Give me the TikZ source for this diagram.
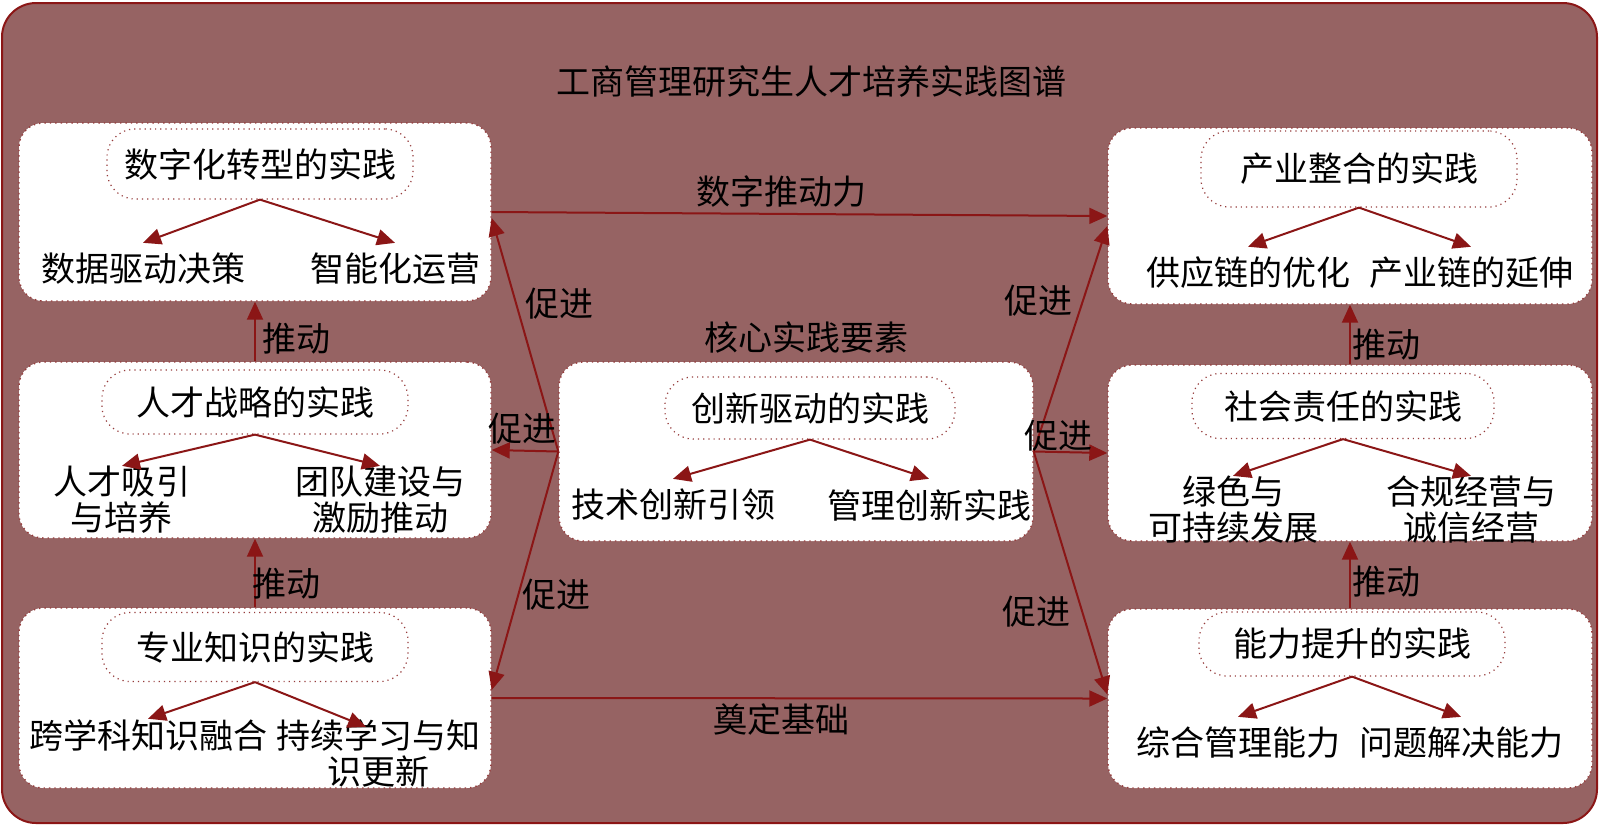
\documentclass[tikz,border=0pt]{standalone}
\usepackage{fontspec}
\setmainfont{Noto Sans CJK SC}
\usetikzlibrary{arrows.meta}
\definecolor{bgred}{RGB}{150,99,99}
\definecolor{lnred}{RGB}{139,22,22}
\definecolor{dotred}{RGB}{150,60,60}
\begin{document}
\begin{tikzpicture}[x=0.5pt,y=-0.5pt,
  font=\fontsize{17pt}{18pt}\selectfont,
  outer/.style={draw=lnred, line width=1pt, fill=bgred, rounded corners=17pt},
  panel/.style={draw=dotred, dotted, line width=0.7pt, fill=white, rounded corners=12pt, inner sep=0pt},
  pill/.style={draw=dotred, dotted, line width=0.6pt, rounded corners=14pt, inner sep=0pt},
  arr/.style={draw=lnred, line width=1pt, -{Triangle[length=9pt,width=8pt]}},
  sub/.style={inner sep=5pt},
  subtwo/.style={align=center, inner sep=0pt},
  lbl/.style={inner sep=0pt}
]
\useasboundingbox (0,0) rectangle (1600,827);
\path[outer] (2,3) rectangle (1597,823);

\node[lbl] (title) at (811,82) {工商管理研究生人才培养实践图谱};
\node[lbl] (core) at (806,337) {核心实践要素};

% panels
\node[panel, minimum width=236pt, minimum height=89pt] (TL) at (255,212) {};
\node[panel, minimum width=236pt, minimum height=88pt] (ML) at (255,450) {};
\node[panel, minimum width=236pt, minimum height=90pt] (BL) at (255,698) {};
\node[panel, minimum width=237pt, minimum height=89.5pt] (C) at (796,451.5) {};
\node[panel, minimum width=242pt, minimum height=88pt] (TR) at (1350,216) {};
\node[panel, minimum width=242pt, minimum height=88pt] (MR) at (1350,453) {};
\node[panel, minimum width=242pt, minimum height=89.5pt] (BR) at (1350,698.5) {};

% pills
\node[pill, minimum width=153pt, minimum height=35pt] (pTL) at (260,164) {数字化转型的实践};
\node[pill, minimum width=153pt, minimum height=32pt] (pML) at (255,402) {人才战略的实践};
\node[pill, minimum width=153pt, minimum height=34.5pt] (pBL) at (255,647) {专业知识的实践};
\node[pill, minimum width=145pt, minimum height=31pt] (pC) at (810,408) {创新驱动的实践};
\node[pill, minimum width=158pt, minimum height=38pt] (pTR) at (1359,169) {产业整合的实践};
\node[pill, minimum width=151pt, minimum height=32.5pt] (pMR) at (1343,406) {社会责任的实践};
\node[pill, minimum width=153pt, minimum height=32pt] (pBR) at (1352,644) {能力提升的实践};

% children
\node[sub] (a1) at (143,269) {数据驱动决策};
\node[sub] (a2) at (395,269) {智能化运营};
\node[subtwo] (b1) at (122,500) {人才吸引\\与培养};
\node[subtwo] (b2) at (380,500) {团队建设与\\激励推动};
\node[sub, inner sep=0pt] (c1) at (148,735) {跨学科知识融合};
\node[subtwo] (c2) at (378,753) {持续学习与知\\识更新};
\node[sub] (d1) at (673,505) {技术创新引领};
\node[sub] (d2) at (929,505) {管理创新实践};
\node[sub] (e1) at (1248,273) {供应链的优化};
\node[sub] (e2) at (1471,273) {产业链的延伸};
\node[subtwo] (f1) at (1233,510) {绿色与\\可持续发展};
\node[subtwo] (f2) at (1471,510) {合规经营与\\诚信经营};
\node[sub] (g1) at (1238,743) {综合管理能力};
\node[sub] (g2) at (1461,743) {问题解决能力};

% inner arrows
\draw[arr] (pTL.south) -- (a1.north);
\draw[arr] (pTL.south) -- (a2.north);
\draw[arr] (pML.south) -- (b1.north);
\draw[arr] (pML.south) -- (b2.north);
\draw[arr] (pBL.south) -- (c1.north);
\draw[arr] (pBL.south) -- ([xshift=-6pt,yshift=-4pt]c2.north);
\draw[arr] (pC.south) -- (d1.north);
\draw[arr] (pC.south) -- (d2.north);
\draw[arr] (pTR.south) -- (e1.north);
\draw[arr] (pTR.south) -- (e2.north);
\draw[arr] (pMR.south) -- (f1.north);
\draw[arr] (pMR.south) -- (f2.north);
\draw[arr] (pBR.south) -- (g1.north);
\draw[arr] (pBR.south) -- (g2.north);

% main connectors
\draw[arr] (TL.east) -- (TR.west);
\draw[arr] (BL.east) -- (BR.west);
\draw[arr] (BL.north) -- (ML.south);
\draw[arr] (ML.north) -- (TL.south);
\draw[arr] (BR.north) -- (MR.south);
\draw[arr] (MR.north) -- (TR.south);
\draw[arr] (C.west) -- (ML.east);
\draw[arr] (C.west) -- ([yshift=-3pt]TL.east);
\draw[arr] (C.west) -- ([yshift=4pt]BL.east);
\draw[arr] (C.east) -- ([yshift=-5pt]TR.west);
\draw[arr] (C.east) -- (MR.west);
\draw[arr] (C.east) -- ([yshift=2pt]BR.west);

% labels
\node[lbl] (l1) at (781,192) {数字推动力};
\node[lbl] (l2) at (781,719) {奠定基础};
\node[lbl] (l3) at (296,339) {推动};
\node[lbl] (l4) at (286,584) {推动};
\node[lbl] (l5) at (1386,345) {推动};
\node[lbl] (l6) at (1386,582) {推动};
\node[lbl] (l7) at (559,304) {促进};
\node[lbl] (l8) at (522,429) {促进};
\node[lbl] (l9) at (556,595) {促进};
\node[lbl] (l10) at (1038,301) {促进};
\node[lbl] (l11) at (1058,436) {促进};
\node[lbl] (l12) at (1036,612) {促进};
\end{tikzpicture}
\end{document}
